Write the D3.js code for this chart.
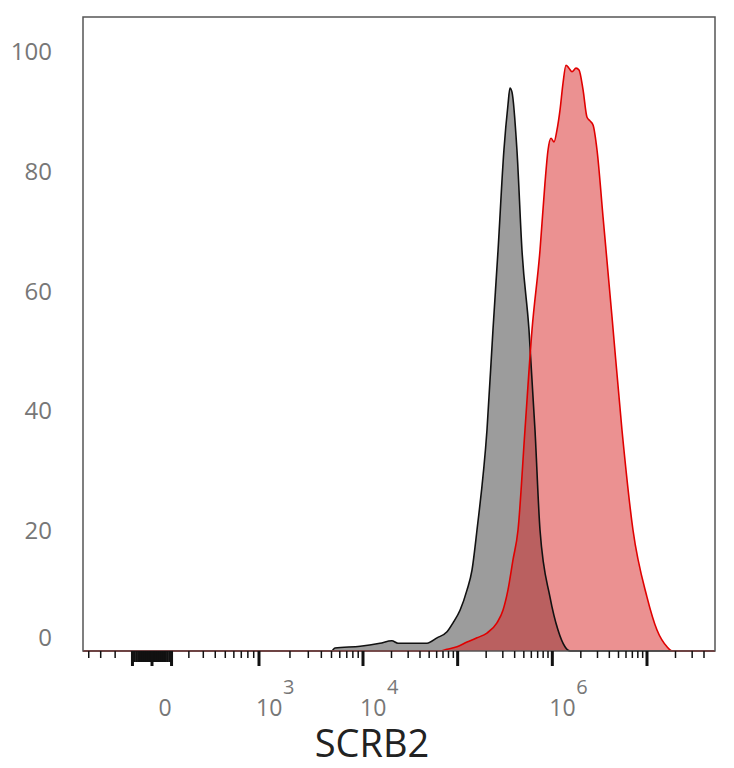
<!DOCTYPE html>
<html>
<head>
<meta charset="utf-8">
<script src="https://cdn.jsdelivr.net/npm/d3@7/dist/d3.min.js"></script>
<style>
html,body{margin:0;padding:0;background:#fff;}
svg{display:block;}
</style>
</head>
<body>
<svg id="chart" width="734" height="768"></svg>
<script>
// ---------- data ----------
const isotypeX = [-600, 0, 5000, 5400, 9400, 15100, 20200, 23400, 47400, 60500, 77200, 89300, 105900, 125600, 141700, 160000, 204000, 236000, 267000, 308000, 340000, 357000, 375000, 423000, 478000, 567000, 656000, 741000, 945000, 1148000, 1361000, 1538000, 6e7];
const isotypeY = [0, 0, 0, 0.5, 0.8, 1.3, 1.7, 1.3, 1.3, 2.2, 3.2, 4.7, 6.8, 10.2, 13.5, 20.2, 36.9, 53.6, 66.9, 83.6, 91.2, 94.0, 93.3, 83.6, 66.9, 53.6, 36.9, 20.2, 9.0, 3.5, 0.7, 0, 0];

const scrb2X = [-600, 0, 65000, 77200, 98400, 125600, 160000, 204000, 260000, 301000, 340000, 384000, 434000, 514000, 610000, 741000, 836000, 900000, 968000, 1042000, 1120000, 1205000, 1297000, 1394000, 1500000, 1614000, 1779000, 1914000, 2110000, 2325000, 2502000, 2692000, 2967000, 3431000, 4268000, 5441000, 7111000, 1.0e7, 1.275e7, 1.627e7, 1.836e7, 6e7];
const scrb2Y = [0, 0, 0, 0.3, 0.7, 1.5, 2.2, 3.0, 4.7, 6.8, 10.2, 15.2, 20.2, 36.9, 53.6, 66.9, 78.1, 83.6, 85.6, 85.0, 87.0, 90.3, 94.8, 97.8, 97.3, 96.7, 97.3, 97.0, 93.7, 89.1, 88.5, 87.8, 83.6, 72.5, 55.8, 36.9, 20.2, 9.0, 3.5, 0.7, 0, 0];

const yTicks = [0, 20, 40, 60, 80, 100];
const xLabelTicks = [
  {v: 0, base: "0", exp: ""},
  {v: 1e3, base: "10", exp: "3"},
  {v: 1e4, base: "10", exp: "4"},
  {v: 1e6, base: "10", exp: "6"}
];
const majorTicks = [-100, 0, 100, 1e3, 1e4, 1e5, 1e6, 1e7];
const xTitle = "SCRB2";

// ---------- layout ----------
const L = 83, R = 715, T = 17, B = 651;
const svg = d3.select("#chart");

// biexponential-like transform
const W = 260;
const tf = v => Math.asinh(v / W) / Math.LN10;
const anchorsV = [-1000, 0, 1e3, 1e4, 1e7];
const anchorsPx = [45, 152, 259, 363, 647];
const lin = d3.scaleLinear().domain(anchorsV.map(tf)).range(anchorsPx);
const x = v => lin(tf(v));
const y = d3.scaleLinear().domain([0, 100]).range([B, 52]);

// minor ticks
const minorTicks = [];
for (let k = 1; k <= 7; k++) {
  for (let m = 1; m <= 9; m++) {
    minorTicks.push(m * Math.pow(10, k));
    if (k <= 2) minorTicks.push(-m * Math.pow(10, k));
  }
}
const visMinor = minorTicks.filter(v => x(v) > L + 3 && x(v) < R - 6);
const near0 = v => Math.abs(v) < 100;

// clip
svg.append("defs").append("clipPath").attr("id", "clip")
  .append("rect").attr("x", L).attr("y", T).attr("width", R - L).attr("height", B - T + 1);

const g = svg.append("g").attr("clip-path", "url(#clip)");

const area = d3.area().x(d => x(d[0])).y0(y(0)).y1(d => y(d[1])).curve(d3.curveMonotoneX);
const line = d3.line().x(d => x(d[0])).y(d => y(d[1])).curve(d3.curveMonotoneX);

const iso = isotypeX.map((v, i) => [v, isotypeY[i]]);
const pos = scrb2X.map((v, i) => [v, scrb2Y[i]]);

g.append("path").datum(iso).attr("d", area).attr("fill", "rgba(0,0,0,0.39)");
g.append("path").datum(pos).attr("d", area).attr("fill", "rgba(215,35,35,0.5)");
g.append("path").datum(iso).attr("d", line).attr("fill", "none").attr("stroke", "#111").attr("stroke-width", 1.6);
g.append("path").datum(pos).attr("d", line).attr("fill", "none").attr("stroke", "#e00000").attr("stroke-width", 1.6);

// frame
svg.append("rect").attr("x", L).attr("y", T).attr("width", R - L).attr("height", B - T)
  .attr("fill", "none").attr("stroke", "#555").attr("stroke-width", 1.5);

// x ticks
svg.append("g").selectAll("line").data(visMinor).join("line")
  .attr("x1", d => x(d)).attr("x2", d => x(d))
  .attr("y1", B).attr("y2", d => B + (near0(d) ? 11 : 7))
  .attr("stroke", "#111").attr("stroke-width", d => near0(d) ? 2.2 : 1.5);
svg.append("g").selectAll("line").data(majorTicks).join("line")
  .attr("x1", d => x(d)).attr("x2", d => x(d))
  .attr("y1", B).attr("y2", B + 15)
  .attr("stroke", "#111").attr("stroke-width", 3);

// x labels
const xl = svg.append("g").attr("font-family", "'Open Sans', sans-serif").attr("fill", "#777");
xLabelTicks.forEach(t => {
  if (t.exp === "") {
    xl.append("text").attr("x", x(t.v) + 13).attr("y", 716).attr("text-anchor", "middle")
      .attr("font-size", 23).text(t.base);
  } else {
    xl.append("text").attr("x", x(t.v) - 3).attr("y", 716).attr("text-anchor", "start")
      .attr("font-size", 23).text(t.base);
    xl.append("text").attr("x", x(t.v) + 24).attr("y", 694).attr("text-anchor", "start")
      .attr("font-size", 20).text(t.exp);
  }
});

// y labels
svg.append("g").attr("font-family", "'Open Sans', sans-serif").attr("fill", "#777")
  .selectAll("text").data(yTicks).join("text")
  .attr("x", 52).attr("y", d => y(d) + 8 - (d === 0 ? 13 : 0))
  .attr("text-anchor", "end").attr("font-size", 24).text(d => d);

// title
svg.append("text").attr("x", 372).attr("y", 757).attr("text-anchor", "middle")
  .attr("font-family", "'Open Sans', sans-serif").attr("font-size", 38).attr("fill", "#222")
  .text(xTitle);
</script>
</body>
</html>
